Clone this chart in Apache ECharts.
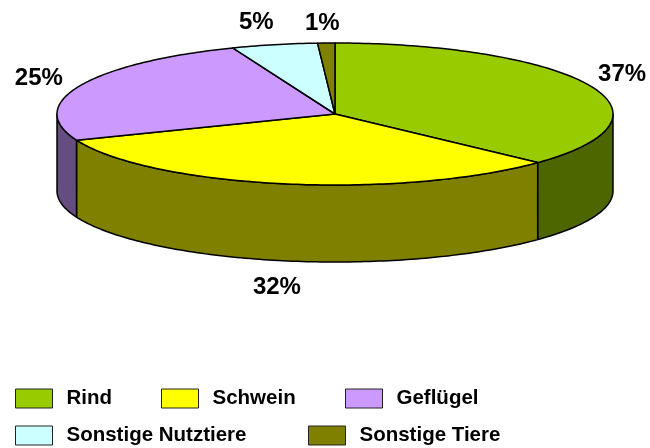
<!DOCTYPE html>
<html>
<head>
<meta charset="utf-8">
<style>html,body{margin:0;padding:0;background:#fff}#chart{width:650px;height:448px}</style>
<script src="https://cdn.jsdelivr.net/npm/echarts@6/dist/echarts.min.js"></script>
</head>
<body>
<div id="chart"></div>
<script>
// Share of each animal group, in percent
const categories = ['Rind', 'Schwein', 'Geflügel', 'Sonstige Nutztiere', 'Sonstige Tiere'];
const shares = [37, 32, 25, 5, 1];
const topColors = ['#99CC00', '#FFFF00', '#CC99FF', '#CCFFFF', '#808000'];
const wallColors = ['#4D6600', '#808000', '#664D80', '#668080', '#404000'];

// Tilted disc: centre, radii and wall height
const disc = { cx: 335, cy: 114, rx: 278, ry: 71, depth: 77 };
// Where each percentage label sits relative to the rim point at the slice's middle
const labelOffsets = [[32, -11], [-6, 104], [-41, -7], [-18, -22], [-4, -20]];
// Legend entries laid out in two rows
const legendSlots = [[15, 388], [161, 388], [345, 388], [15, 425], [308, 425]];

const total = shares.reduce((a, b) => a + b, 0);
const rim = (deg, drop) => {
  const r = deg * Math.PI / 180;
  return [disc.cx + disc.rx * Math.sin(r), disc.cy - disc.ry * Math.cos(r) + (drop || 0)];
};
const arcPoints = (from, to, drop) => {
  const pts = [];
  const steps = Math.max(1, Math.ceil(Math.abs(to - from)));
  for (let i = 0; i <= steps; i++) pts.push(rim(from + (to - from) * i / steps, drop));
  return pts;
};

const edge = { stroke: '#000', lineWidth: 1.5, lineJoin: 'round' };

function drawSlice(index, startShare) {
  return function () {
    const a0 = startShare / total * 360;
    const a1 = (startShare + shares[index]) / total * 360;
    const children = [];
    // The wall is only visible along the front half of the disc
    const w0 = Math.max(a0, 90), w1 = Math.min(a1, 270);
    if (w1 > w0) {
      children.push({
        type: 'polygon',
        shape: { points: arcPoints(w0, w1, 0).concat(arcPoints(w1, w0, disc.depth)) },
        style: Object.assign({ fill: wallColors[index] }, edge)
      });
    }
    children.push({
      type: 'polygon',
      shape: { points: [[disc.cx, disc.cy]].concat(arcPoints(a0, a1, 0)) },
      style: Object.assign({ fill: topColors[index] }, edge)
    });
    const mid = rim((a0 + a1) / 2, 0);
    children.push({
      type: 'text',
      style: {
        x: mid[0] + labelOffsets[index][0],
        y: mid[1] + labelOffsets[index][1],
        text: shares[index] + '%',
        fill: '#000',
        font: 'bold 24px "Liberation Sans", Arial, sans-serif',
        align: 'center',
        verticalAlign: 'middle'
      }
    });
    return { type: 'group', children };
  };
}

let running = 0;
const series = categories.map((name, i) => {
  const s = {
    type: 'custom',
    name,
    coordinateSystem: 'none',
    animation: false,
    silent: true,
    itemStyle: { color: topColors[i] },
    data: [shares[i]],
    renderItem: drawSlice(i, running)
  };
  running += shares[i];
  return s;
});

const legends = categories.map((name, i) => ({
  data: [name],
  left: legendSlots[i][0],
  top: legendSlots[i][1],
  padding: 0,
  icon: 'rect',
  itemWidth: 37,
  itemHeight: 19,
  selectedMode: false,
  itemStyle: { borderColor: '#222', borderWidth: 1 },
  textStyle: {
    color: '#000',
    fontFamily: '"Liberation Sans", Arial, sans-serif',
    fontWeight: 'bold',
    fontSize: 20.5,
    padding: [0, 0, 0, 9]
  }
}));

const chart = echarts.init(document.getElementById('chart'), null, { renderer: 'canvas' });
chart.setOption({ backgroundColor: '#fff', animation: false, legend: legends, series });
</script>
</body>
</html>
